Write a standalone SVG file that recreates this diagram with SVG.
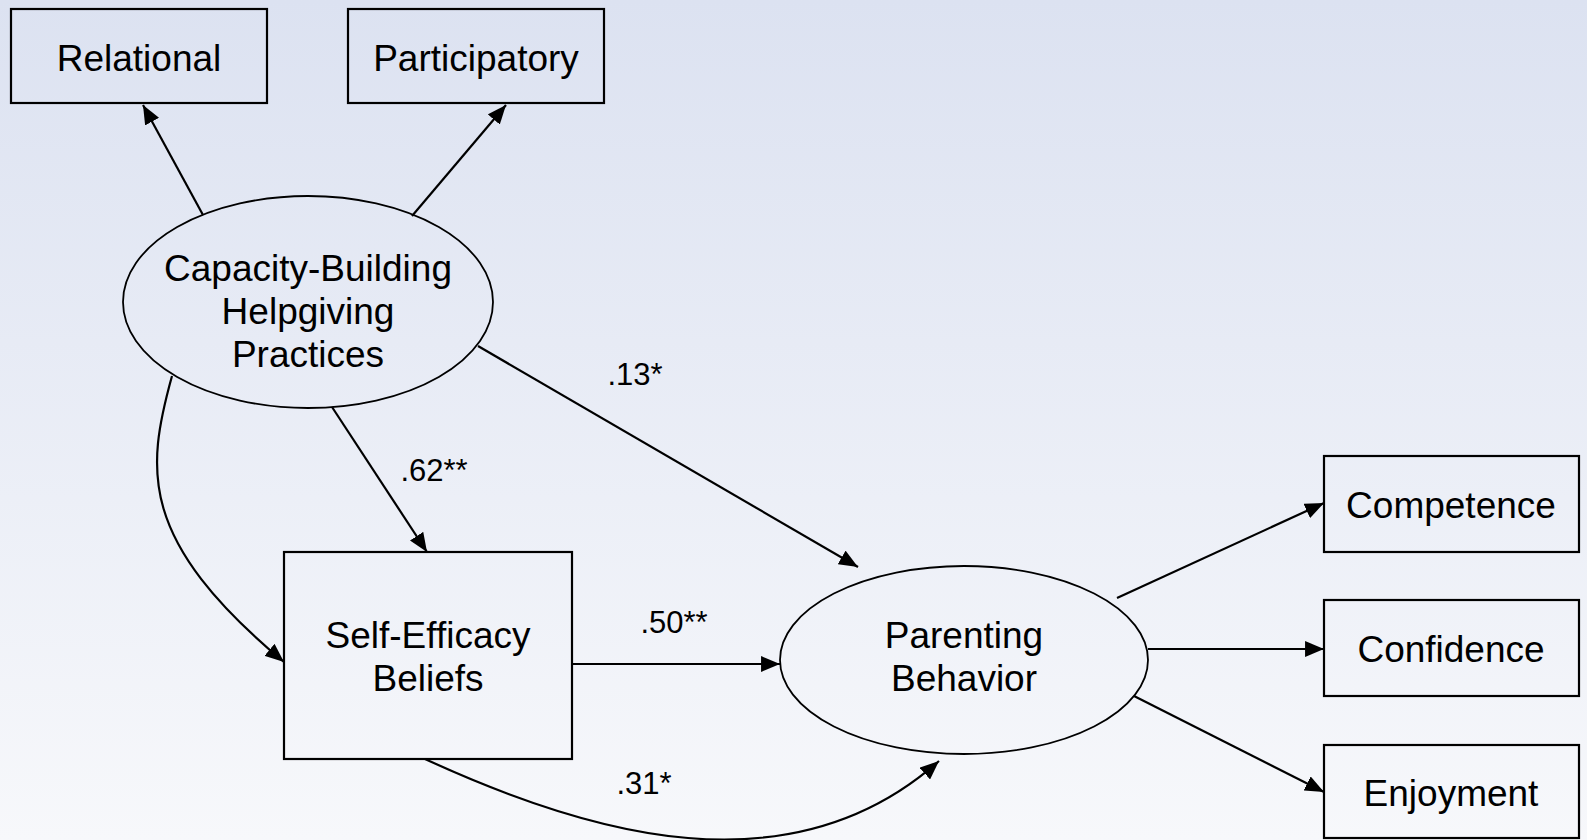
<svg xmlns="http://www.w3.org/2000/svg" width="1587" height="840" viewBox="0 0 1587 840">
<defs>
<linearGradient id="bg" x1="0" y1="0" x2="0" y2="1">
<stop offset="0" stop-color="#dce2f1"/>
<stop offset="1" stop-color="#f7f8fb"/>
</linearGradient>
<marker id="ah" markerUnits="userSpaceOnUse" markerWidth="20" markerHeight="16" viewBox="0 0 19 15" refX="18" refY="7.5" orient="auto">
<path d="M0,0 L18,7.5 L0,15 z" fill="#000"/>
</marker>
<style>
.box{fill:none;stroke:#000;stroke-width:2.2}
.ell{fill:none;stroke:#000;stroke-width:1.8}
.t{font-family:"Liberation Sans",Arial,sans-serif;font-size:37px;fill:#000;text-anchor:middle}
.lbl{font-family:"Liberation Sans",Arial,sans-serif;font-size:31px;fill:#000;text-anchor:middle}
.c{fill:none;stroke:#000;stroke-width:2.2;marker-end:url(#ah)}
</style>
</defs>
<rect x="0" y="0" width="1587" height="840" fill="url(#bg)"/>

<g id="relational">
<rect class="box" x="11" y="9" width="256" height="94"/>
<text class="t" x="139" y="71">Relational</text>
</g>
<g id="participatory">
<rect class="box" x="348" y="9" width="256" height="94"/>
<text class="t" x="476" y="71">Participatory</text>
</g>
<g id="capacity">
<ellipse class="ell" cx="308" cy="302" rx="185" ry="106"/>
<text class="t" x="308" y="281">Capacity-Building</text>
<text class="t" x="308" y="324">Helpgiving</text>
<text class="t" x="308" y="367">Practices</text>
</g>
<g id="selfefficacy">
<rect class="box" x="284" y="552" width="288" height="207"/>
<text class="t" x="428" y="648">Self-Efficacy</text>
<text class="t" x="428" y="691">Beliefs</text>
</g>
<g id="parenting">
<ellipse class="ell" cx="964" cy="660" rx="184" ry="94"/>
<text class="t" x="964" y="648">Parenting</text>
<text class="t" x="964" y="691">Behavior</text>
</g>
<g id="competence">
<rect class="box" x="1324" y="456" width="255" height="96"/>
<text class="t" x="1451" y="518">Competence</text>
</g>
<g id="confidence">
<rect class="box" x="1324" y="600" width="255" height="96"/>
<text class="t" x="1451" y="662">Confidence</text>
</g>
<g id="enjoyment">
<rect class="box" x="1324" y="745" width="255" height="93"/>
<text class="t" x="1451" y="806">Enjoyment</text>
</g>

<g id="connectors">
<line class="c" x1="203" y1="215" x2="143" y2="105"/>
<line class="c" x1="412" y1="216" x2="506" y2="105"/>
<line class="c" x1="332" y1="407" x2="427" y2="552"/>
<line class="c" x1="478" y1="346" x2="858" y2="567"/>
<path class="c" d="M172,376 C146,470 138,540 284,662"/>
<line class="c" x1="572" y1="664" x2="780" y2="664"/>
<path class="c" d="M425,759 C590,835 790,893 939,761"/>
<line class="c" x1="1117" y1="598" x2="1324" y2="503"/>
<line class="c" x1="1148" y1="649" x2="1324" y2="649"/>
<line class="c" x1="1134" y1="696" x2="1324" y2="792"/>
</g>
<g id="labels">
<text class="lbl" x="635" y="385">.13*</text>
<text class="lbl" x="434" y="481">.62**</text>
<text class="lbl" x="674" y="633">.50**</text>
<text class="lbl" x="644" y="794">.31*</text>
</g>
</svg>
